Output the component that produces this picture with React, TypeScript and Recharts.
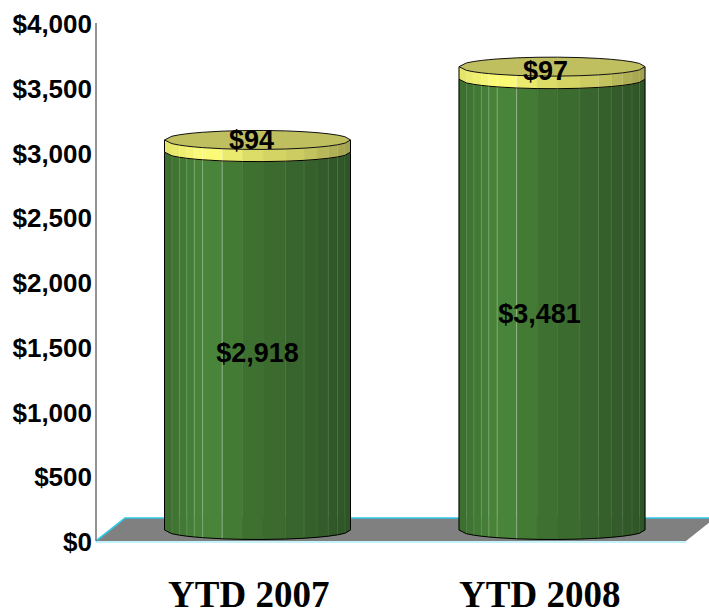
import React from "react";
import { BarChart, Bar, XAxis, YAxis, LabelList, usePlotArea } from "recharts";

const categories = ["YTD 2007", "YTD 2008"];
const mainValues = [2918, 3481];
const topValues = [94, 97];
const yTicks = [0, 500, 1000, 1500, 2000, 2500, 3000, 3500, 4000];

const rows = categories.map((name, i) => ({ name, main: mainValues[i], top: topValues[i] }));

// drawing style of the pseudo-3D cylinder
const DEPTH_X = 14.5;
const LIFT_Y = 11;
const RY = 9.5;
const facetEdges = [0, 0.04, 0.08, 0.12, 0.16, 0.205, 0.31, 0.42, 0.53, 0.65, 0.75, 0.82, 0.88, 0.93, 0.97, 1];
const litEdges = [
  [0.04, 0.1], [0.08, 0.14], [0.12, 0.18], [0.16, 0.24], [0.205, 0.3], [0.31, 0.4],
  [0.65, 0.06], [0.75, 0.1], [0.82, 0.06], [0.88, 0.1], [0.93, 0.1], [0.97, 0.08],
];
const greenStops: [number, number[]][] = [[0, [60, 108, 48]], [0.22, [74, 136, 58]], [0.45, [63, 114, 49]], [0.75, [54, 98, 44]], [1, [46, 84, 38]]];
const yellowStops: [number, number[]][] = [[0, [226, 226, 104]], [0.22, [255, 255, 120]], [0.45, [222, 222, 106]], [0.75, [200, 200, 96]], [1, [160, 160, 80]]];

function mix(stops: [number, number[]][], t: number) {
  for (let i = 1; i < stops.length; i++) {
    if (t <= stops[i][0]) {
      const [a, ca] = stops[i - 1];
      const [b, cb] = stops[i];
      const k = (t - a) / (b - a);
      return `rgb(${ca.map((v, j) => Math.round(v + (cb[j] - v) * k)).join(",")})`;
    }
  }
  return "rgb(0,0,0)";
}

const arc = (u: number) => RY * Math.sqrt(Math.max(0, 1 - (2 * u - 1) ** 2));

function Cylinder({ x, y, width, height, stops, cap }: any) {
  const left = x + DEPTH_X;
  const topC = y - LIFT_Y;
  const botC = y + height - LIFT_Y;
  const px = (u: number) => left + u * width;
  const front = (cy: number) => facetEdges.map((u) => `${px(u)},${cy + arc(u)}`);
  const back = (cy: number) => [...facetEdges].reverse().map((u) => `${px(u)},${cy - arc(u)}`);
  return (
    <g>
      {facetEdges.slice(0, -1).map((u, i) => {
        const v = facetEdges[i + 1];
        const fill = mix(stops, (u + v) / 2);
        const pts = `${px(u)},${topC + arc(u)} ${px(v)},${topC + arc(v)} ${px(v)},${botC + arc(v)} ${px(u)},${botC + arc(u)}`;
        return <polygon key={i} points={pts} fill={fill} stroke={fill} strokeWidth={0.5} />;
      })}
      {litEdges.map(([u, o]) => (
        <line key={u} x1={px(u)} x2={px(u)} y1={topC + arc(u)} y2={botC + arc(u)} stroke="#fff" strokeOpacity={o} strokeWidth={1} />
      ))}
      <polyline
        points={[`${left},${topC}`, ...front(botC), `${left + width},${topC}`].join(" ")}
        fill="none"
        stroke="#000"
        strokeWidth={1}
      />
      {cap && (
        <polygon points={[...front(topC), ...back(topC)].join(" ")} fill="#bfbf60" stroke="#111" strokeWidth={1} />
      )}
    </g>
  );
}

function Floor() {
  const p = usePlotArea();
  if (!p) return null;
  const bottom = p.y + p.height;
  const backY = bottom - 23;
  const l = p.x;
  const r = p.x + p.width + 1;
  return (
    <g>
      <polygon points={`${l},${bottom} ${r},${bottom} ${r + 29},${backY} ${l + 29},${backY}`} fill="#808080" />
      <line x1={l} x2={r} y1={bottom + 1} y2={bottom + 1} stroke="#c4f2fb" strokeWidth={2} />
      <polyline points={`${l},${bottom} ${l + 29},${backY} ${r + 29},${backY}`} fill="none" stroke="#2fc8e6" strokeWidth={1.6} />
    </g>
  );
}

const tickShift = [5.5, 2];
function CategoryTick({ x, payload, index }: any) {
  return (
    <text x={x + tickShift[index]} y={607} textAnchor="middle" fontFamily="Liberation Serif" fontWeight="bold" fontSize={37} fill="#000">
      {payload.value}
    </text>
  );
}

const labelShift: Record<string, [number, number][]> = {
  main: [[14.5, 1], [2, -2]],
  top: [[8.5, -17], [8, -13]],
};
function makeLabel(key: string) {
  return function ValueLabel({ x, y, width, height, value, index }: any) {
    const [dx, dy] = labelShift[key][index];
    return (
      <text
        x={x + width / 2 + dx}
        y={y + height / 2 + dy}
        textAnchor="middle"
        dominantBaseline="central"
        fontFamily="Liberation Sans"
        fontWeight="bold"
        fontSize={27}
        fill="#000"
      >
        {`$${Number(value).toLocaleString("en-US")}`}
      </text>
    );
  };
}

export default function App() {
  return (
    <div style={{ position: "absolute", left: 0, top: 0, width: 709, height: 611, overflow: "hidden" }}>
      <BarChart
        width={709}
        height={611}
        data={rows}
        margin={{ top: 23, right: 24, bottom: 0, left: 0 }}
        barCategoryGap={0}
        barSize={186}
        style={{ overflow: "hidden" }}
      >
        <Floor />
        <XAxis
          dataKey="name"
          axisLine={false}
          tickLine={false}
          height={70}
          tickSize={0}
          tickMargin={0}
          tick={(props: any) => <CategoryTick {...props} />}
          interval={0}
        />
        <YAxis
          width={96}
          domain={[0, 4000]}
          ticks={yTicks}
          interval={0}
          tickLine={false}
          tickSize={0}
          tickMargin={4}
          axisLine={{ stroke: "#707070", strokeWidth: 1.5 }}
          tickFormatter={(v: number) => `$${v.toLocaleString("en-US")}`}
          tick={{ fill: "#000", fontFamily: "Liberation Sans", fontWeight: "bold", fontSize: 26, dy: 1 }}
        />
        <Bar
          dataKey="main"
          stackId="a"
          isAnimationActive={false}
          shape={(props: any) => <Cylinder {...props} stops={greenStops} />}
        >
          <LabelList dataKey="main" content={makeLabel("main")} />
        </Bar>
        <Bar
          dataKey="top"
          stackId="a"
          isAnimationActive={false}
          shape={(props: any) => <Cylinder {...props} stops={yellowStops} cap />}
        >
          <LabelList dataKey="top" content={makeLabel("top")} />
        </Bar>
      </BarChart>
    </div>
  );
}
